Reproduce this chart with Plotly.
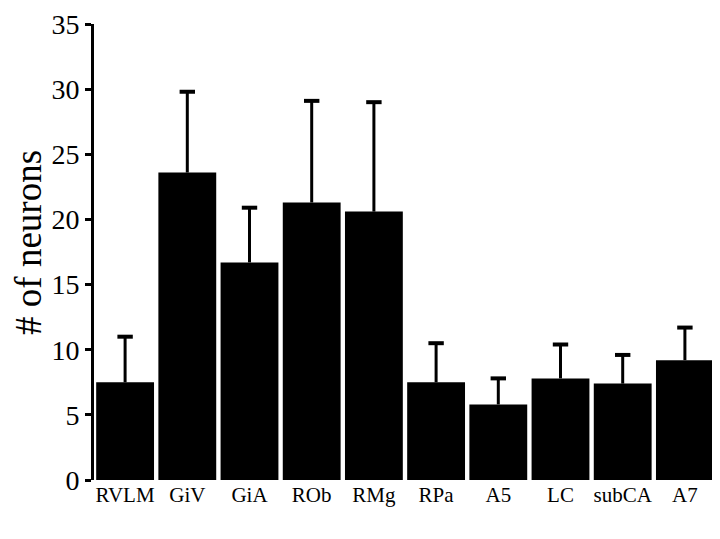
import plotly.graph_objects as go

categories = ["RVLM", "GiV", "GiA", "ROb", "RMg", "RPa", "A5", "LC", "subCA", "A7"]
means = [7.5, 23.6, 16.7, 21.3, 20.6, 7.5, 5.8, 7.8, 7.4, 9.2]
err_top = [11.0, 29.8, 20.9, 29.1, 29.0, 10.5, 7.8, 10.4, 9.6, 11.7]
y_ticks = [0, 5, 10, 15, 20, 25, 30, 35]

stem_x, stem_y = [], []
for c, m, t in zip(categories, means, err_top):
    stem_x += [c, c, None]
    stem_y += [m, t, None]

fig = go.Figure()
fig.add_trace(go.Bar(
    x=categories, y=means,
    marker=dict(color="black", line=dict(width=0)),
))
fig.add_trace(go.Scatter(x=stem_x, y=stem_y, mode="lines",
                         line=dict(color="black", width=3), hoverinfo="skip"))
fig.add_trace(go.Scatter(x=categories, y=err_top, mode="markers",
                         marker=dict(symbol="line-ew", size=11, color="black",
                                     line=dict(color="black", width=4)), hoverinfo="skip"))

fig.update_layout(
    width=712, height=531,
    margin=dict(l=86, r=4, t=16, b=59),
    plot_bgcolor="white", paper_bgcolor="white",
    bargap=0.07,
    showlegend=False,
    font=dict(family="Liberation Serif", color="black"),
    xaxis=dict(showline=False, ticks="", tickfont=dict(size=21), showgrid=False,
               range=[-0.5, 9.5], automargin=False),
    yaxis=dict(range=[0, 35], tickvals=y_ticks, showline=True, linewidth=3, linecolor="black",
               ticks="outside", ticklen=6, tickwidth=3, tickcolor="black",
               tickfont=dict(size=28), showgrid=False, zeroline=False, automargin=False,
               ticklabeloverflow="allow"),
    annotations=[dict(text="# of neurons", textangle=-90, xref="paper", yref="paper",
                      x=-0.1045, y=0.52, xanchor="center", yanchor="middle", showarrow=False,
                      borderpad=0,
                      font=dict(size=37, family="Liberation Serif", color="black"))],
)

fig.write_html("out.html")
